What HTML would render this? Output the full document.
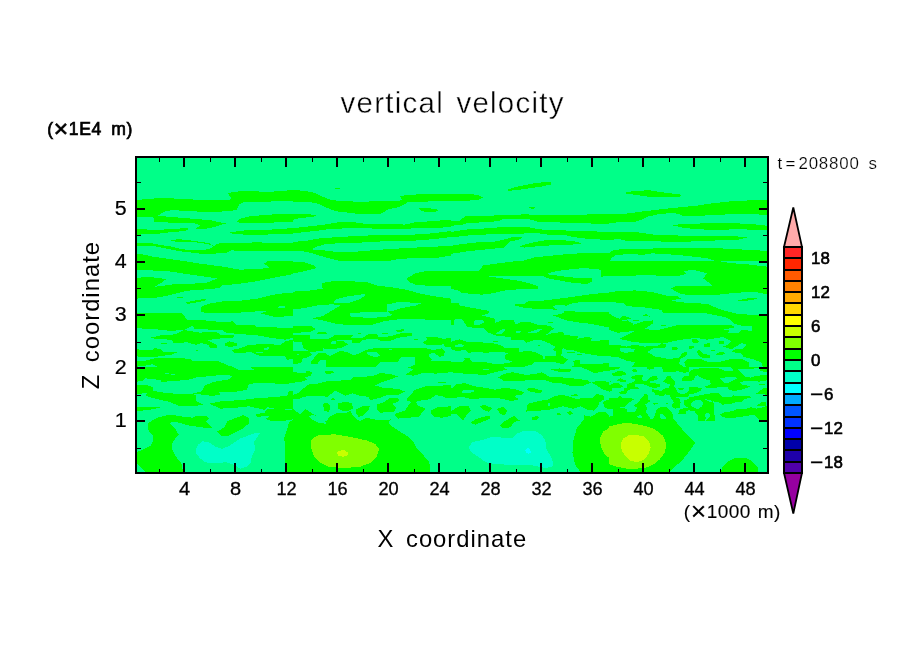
<!DOCTYPE html>
<html lang="en"><head><meta charset="utf-8"><title>vertical velocity</title>
<style>html,body{margin:0;padding:0;background:#fff}svg{display:block}text{font-family:"Liberation Sans",sans-serif;fill:#000}</style></head><body>
<svg width="904" height="654" viewBox="0 0 904 654">
<rect width="904" height="654" fill="#fff"/>
<defs><clipPath id="pc"><rect x="136" y="157" width="632" height="316"/></clipPath></defs>
<g clip-path="url(#pc)" shape-rendering="crispEdges">
<rect x="135" y="156" width="634" height="318" fill="#00ff88"/>
<g fill="#00ff00">
<polygon points="135.0,200.1 152.5,198.7 161.2,197.8 196.2,199.7 230.3,199.7 230.8,196.9 227.3,193.1 239.9,191.2 271.3,191.7 293.0,190.0 293.0,201.3 271.3,201.5 243.4,202.2 239.0,204.8 236.4,210.1 225.9,211.3 206.7,212.3 194.4,211.3 171.7,210.1 163.8,211.8 157.7,215.8 178.7,217.6 196.2,219.0 210.2,220.2 225.9,223.5 217.1,226.1 208.4,228.4 194.4,229.5 200.5,225.3 195.3,223.5 178.7,222.8 154.2,222.1 153.4,217.2 135.0,216.5"/>
<polygon points="135.0,229.1 156.0,229.8 170.0,229.3 185.7,228.1 189.2,228.8 185.7,230.9 170.0,232.3 156.0,234.0 135.0,234.7"/>
<polygon points="237.2,221.4 239.9,218.8 248.6,216.5 260.8,215.3 278.3,214.1 293.0,213.6 293.0,221.8 278.3,222.3 260.8,223.2 248.6,223.5 239.9,223.2"/>
<polygon points="225.9,233.1 236.4,231.4 246.9,230.2 260.8,230.5 274.8,229.3 293.0,228.1 293.0,233.7 274.8,234.0 260.8,235.0 248.6,235.4 239.9,234.0"/>
<polygon points="170.8,240.6 176.9,239.2 187.4,239.9 197.9,241.5 208.4,242.9 214.0,245.9 217.1,243.6 231.1,242.9 257.3,242.4 293.0,243.3 293.0,250.8 257.3,251.1 243.4,250.8 231.1,250.4 225.9,252.9 210.2,253.9 196.2,253.4 187.4,252.0 178.7,251.1 187.4,250.3 208.4,249.4 213.7,246.2 208.4,244.1 196.2,242.4 187.4,241.9 176.9,241.9"/>
<polygon points="135.0,242.9 152.5,243.4 161.2,245.2 170.0,246.2 178.7,248.5 187.4,249.9 187.4,252.2 178.7,251.1 170.0,249.4 161.2,247.6 152.5,245.9 135.0,245.9"/>
<polygon points="135.0,253.8 143.7,254.6 152.5,256.7 170.0,259.0 182.2,260.9 135.0,260.9"/>
<polygon points="293.0,190.0 303.5,190.8 314.0,192.6 321.0,196.1 331.5,200.1 345.4,201.3 362.9,201.8 383.9,200.8 397.9,200.8 402.2,200.1 400.0,196.6 404.9,195.2 418.8,194.3 451.0,193.8 451.0,200.8 418.8,201.8 408.4,201.8 404.0,204.8 397.9,207.4 389.1,209.2 380.4,213.6 362.9,214.4 350.7,213.0 336.7,211.3 328.0,208.3 319.2,203.9 310.5,202.2 293.0,201.8"/>
<polygon points="334.9,187.7 339.8,187.7 339.8,188.7 334.9,188.7"/>
<polygon points="418.8,208.3 425.8,208.0 437.2,209.2 438.1,211.3 429.3,212.0 421.5,211.3"/>
<polygon points="293.0,214.4 310.5,214.4 317.5,215.8 310.5,217.2 300.0,217.9 293.0,219.7"/>
<polygon points="293.0,228.1 303.5,227.0 314.0,225.8 324.5,224.6 338.4,222.3 350.7,221.8 362.9,223.5 376.9,224.0 390.9,224.0 404.9,224.6 415.3,222.3 432.8,221.1 451.0,219.7 451.0,227.0 432.8,228.1 415.3,228.4 397.9,228.8 362.9,228.4 345.4,228.4 331.5,228.8 319.2,230.5 307.0,231.9 293.0,233.3"/>
<polygon points="293.0,242.0 307.0,240.6 319.2,238.5 336.7,237.1 362.9,235.7 380.4,235.0 415.3,234.5 432.8,233.3 451.0,231.0 451.0,237.1 432.8,239.2 415.3,240.6 397.9,241.0 380.4,241.5 362.9,242.4 354.2,243.3 336.7,243.3 324.5,244.5 315.7,246.8 312.2,249.4 328.0,250.8 340.2,252.5 350.7,252.2 362.9,251.1 383.9,249.4 415.3,247.6 451.0,245.9 451.0,255.5 441.6,257.2 432.8,258.1 415.3,258.1 397.9,259.0 389.1,260.9 340.2,260.9 328.0,258.1 310.5,252.9 301.7,251.1 293.0,250.8"/>
<polygon points="506.9,190.0 512.2,187.9 524.4,185.1 538.4,182.6 550.6,182.1 551.5,184.4 541.9,186.5 529.7,188.2 517.4,190.0 508.7,190.8"/>
<polygon points="451.0,193.8 472.0,194.2 479.0,195.5 482.8,197.6 477.2,200.1 465.0,200.8 451.0,200.8"/>
<polygon points="528.8,207.1 533.1,206.9 536.6,208.3 531.4,208.8"/>
<polygon points="451.0,221.1 459.7,220.5 465.0,216.5 486.0,216.2 501.7,214.8 527.9,214.4 538.4,215.3 555.9,215.3 590.8,214.4 609.0,214.1 609.0,223.5 590.8,223.5 573.3,223.2 555.9,222.3 538.4,221.8 529.7,219.3 520.9,218.8 503.4,218.8 498.2,221.1 486.0,222.3 468.5,222.8 461.5,224.9 451.0,225.8"/>
<polygon points="451.0,231.9 468.5,229.3 486.0,228.4 503.4,227.0 527.9,227.0 538.4,229.3 555.9,230.2 582.1,231.0 609.0,231.9 609.0,239.8 590.8,239.2 573.3,237.1 564.6,235.0 547.1,234.5 534.9,232.8 520.9,233.7 503.4,234.0 486.0,234.5 468.5,235.4 456.2,236.8 451.0,237.1"/>
<polygon points="451.0,245.9 461.5,244.1 477.2,242.4 494.7,241.5 503.4,239.8 512.2,237.1 521.8,237.1 520.9,239.2 510.4,241.5 506.9,245.0 503.4,247.6 486.0,249.4 468.5,251.1 459.7,252.5 451.0,253.8"/>
<polygon points="519.2,246.2 529.7,243.3 541.9,240.6 555.9,239.8 573.3,241.0 582.1,243.3 573.3,244.5 555.9,245.0 538.4,246.2 524.4,247.6"/>
<polygon points="522.7,260.9 534.9,257.2 548.9,256.0 564.6,254.3 582.1,253.2 609.0,252.9 609.0,260.9"/>
<polygon points="623.0,193.1 635.2,190.8 649.2,190.3 664.9,192.6 682.4,194.8 678.9,196.9 661.4,197.5 647.5,196.6 635.2,194.8"/>
<polygon points="609.0,214.4 626.5,213.6 644.0,211.3 661.4,209.2 678.9,207.4 696.4,205.7 713.9,203.1 731.3,201.3 748.8,200.4 767.0,200.1 767.0,215.3 757.6,214.4 745.3,213.6 731.3,213.6 722.6,214.8 706.9,215.3 692.9,216.5 684.2,216.2 677.2,213.6 670.2,213.0 657.9,214.4 649.2,216.2 640.5,220.0 635.2,221.8 617.7,222.3 609.0,223.5"/>
<polygon points="671.9,225.3 682.4,224.0 699.9,223.5 722.6,222.8 740.1,223.5 757.6,224.6 767.0,225.8 767.0,230.5 757.6,229.8 740.1,229.3 713.9,229.8 696.4,229.3 682.4,227.5"/>
<polygon points="609.0,231.9 635.2,231.9 652.7,234.5 675.4,235.4 696.4,236.3 722.6,235.7 748.8,237.1 738.3,239.8 722.6,240.3 696.4,241.0 682.4,242.4 661.4,241.5 644.0,241.0 630.0,241.5 619.5,239.2 609.0,239.8"/>
<polygon points="609.0,252.9 614.2,249.7 630.0,249.0 652.7,248.5 661.4,248.0 696.4,248.5 713.9,248.0 740.1,249.4 757.6,250.3 767.0,251.1 767.0,260.9 715.6,260.9 706.9,258.1 687.7,256.0 675.4,254.6 661.4,254.3 652.7,253.2 644.0,254.6 626.5,254.3 616.0,255.0 611.6,258.1 609.9,260.9 609.0,260.9"/>
<polygon points="135.0,261.0 183.9,261.0 196.2,263.1 213.7,265.4 225.9,267.1 239.9,269.7 257.3,268.9 269.6,268.0 264.3,263.6 267.8,261.0 293.0,261.0 293.0,274.1 274.8,277.6 257.3,281.1 239.9,283.7 222.4,285.5 218.9,288.1 201.4,289.8 187.4,290.7 178.7,292.8 170.0,295.1 154.2,298.1 135.0,298.6 135.0,277.6 152.5,277.3 166.5,279.0 161.2,282.8 154.2,286.9 178.7,283.7 204.9,283.4 217.1,278.5 208.4,277.1 187.4,274.1 170.0,271.5 135.0,269.4"/>
<polygon points="176.9,296.8 183.1,296.8 183.1,297.9 176.9,297.9"/>
<polygon points="184.8,302.9 190.9,301.2 201.4,299.5 206.7,299.1 204.9,300.8 194.4,302.9 187.4,303.8"/>
<polygon points="200.5,311.7 201.4,306.8 208.4,303.8 222.4,301.5 239.9,300.8 257.3,298.6 271.3,295.1 283.6,293.3 293.0,292.5 293.0,315.5 283.6,316.6 274.8,316.9 267.8,315.2 260.8,313.4 267.8,310.8 257.3,311.3 239.9,312.6 222.4,313.1 208.4,313.4"/>
<polygon points="135.0,313.4 152.5,313.4 166.5,312.6 182.2,313.4 184.8,316.9 187.4,320.4 204.9,320.4 213.7,321.3 225.9,322.2 232.9,321.3 236.4,324.8 253.8,324.8 257.3,327.4 274.8,327.4 293.0,328.3 293.0,337.9 285.3,339.7 271.3,337.9 257.3,335.3 239.9,334.1 225.9,332.7 222.4,330.0 208.4,329.5 194.4,328.8 192.7,325.7 183.9,330.0 170.0,330.9 152.5,328.8 135.0,328.3"/>
<polygon points="149.0,337.9 161.2,335.3 175.2,334.4 183.9,330.0 199.7,332.7 208.4,331.8 218.9,332.7 220.6,335.3 234.6,335.3 232.9,337.9 213.7,338.8 208.4,340.5 217.1,344.9 217.1,347.5 210.2,348.4 208.4,344.9 201.4,343.1 196.2,344.9 187.4,342.3 173.5,343.1 171.7,339.7 161.2,339.3"/>
<polygon points="161.2,342.8 167.3,342.8 167.3,343.8 161.2,343.8"/>
<polygon points="225.0,343.1 229.4,341.4 236.4,343.1 237.2,345.8 229.4,347.0 225.0,345.8"/>
<polygon points="231.1,350.1 239.9,348.4 248.6,344.9 266.1,344.0 280.1,344.9 285.3,341.4 293.0,339.7 293.0,358.9 287.1,359.8 285.3,356.3 271.3,356.3 257.3,355.4 250.4,351.9 243.4,352.8 234.6,352.8"/>
<polygon points="135.0,349.3 152.5,350.1 154.2,348.0 161.2,349.3 163.0,351.9 178.7,351.9 171.7,354.5 156.0,356.8 145.5,357.1 135.0,356.3"/>
<polygon points="195.3,350.1 197.0,349.3 198.8,351.0 196.2,351.5"/>
<polygon points="135.0,361.0 145.5,360.6 156.0,358.0 176.9,358.0 190.9,358.9 192.7,361.5 204.9,360.6 218.9,361.5 229.4,365.9 232.9,366.9 157.7,366.9 152.5,364.1 143.7,365.9 135.0,366.9"/>
<polygon points="293.0,262.4 303.5,261.9 314.0,265.4 316.6,268.0 307.0,270.6 298.2,272.4 293.0,273.6"/>
<polygon points="406.6,278.5 415.3,273.2 425.8,271.1 451.0,270.6 451.0,285.5 432.8,286.3 415.3,284.6 409.2,282.0"/>
<polygon points="293.0,291.6 308.7,290.7 322.7,288.6 321.8,283.7 328.0,281.6 345.4,281.1 366.4,282.0 376.9,285.5 390.9,287.2 406.6,289.8 418.8,293.3 432.8,296.0 451.0,298.6 451.0,320.4 432.8,320.1 415.3,318.7 394.4,319.6 383.9,321.3 369.9,325.3 350.7,325.3 336.7,323.9 322.7,320.4 312.2,318.3 322.7,316.1 331.5,310.8 340.2,305.6 333.2,304.3 319.2,305.0 303.5,308.2 293.0,309.4"/>
<polygon points="293.0,326.0 303.5,326.0 312.2,326.5 315.7,329.2 310.5,331.8 298.2,332.7 293.0,332.7"/>
<polygon points="316.6,332.7 322.7,331.8 328.8,333.0 322.7,334.4 317.5,334.1"/>
<polygon points="357.7,332.7 361.2,332.7 361.2,333.7 357.7,333.7"/>
<polygon points="382.1,332.7 388.3,332.7 388.3,333.7 382.1,333.7"/>
<polygon points="396.1,330.0 404.0,329.2 403.5,331.3 397.0,332.0"/>
<polygon points="298.2,335.3 309.6,335.3 309.6,338.8 328.0,338.8 334.9,335.3 354.2,334.8 350.7,337.9 362.9,337.6 368.2,334.4 376.9,334.1 378.6,337.6 390.9,336.2 401.4,333.0 411.8,333.0 411.8,335.8 397.9,337.9 390.9,340.5 380.4,340.5 376.9,338.8 362.9,339.7 359.4,342.8 352.4,342.8 352.4,339.7 336.7,340.5 343.7,341.4 348.1,344.5 341.9,347.5 333.2,349.3 322.7,348.4 323.6,351.0 310.5,351.9 303.5,348.4 301.7,342.3 293.0,341.4 293.0,335.3"/>
<polygon points="413.6,338.8 418.0,338.8 418.0,340.0 413.6,340.0"/>
<polygon points="422.3,342.3 427.6,339.7 425.8,337.4 436.3,337.0 443.3,338.8 451.0,337.9 451.0,343.1 441.6,344.5 432.8,345.2 425.8,344.5"/>
<polygon points="293.0,351.0 308.7,350.5 312.2,354.5 308.7,357.1 301.7,358.9 301.7,362.4 295.6,364.1 293.0,364.1"/>
<polygon points="311.4,361.5 317.5,353.6 325.3,352.8 329.7,356.3 340.2,351.0 347.2,351.9 354.2,355.4 362.9,351.9 365.5,350.1 375.1,348.0 390.9,347.5 404.9,348.0 425.8,348.0 432.8,350.1 441.6,348.4 445.1,351.9 443.3,356.3 432.8,357.1 431.1,361.5 451.0,361.0 451.0,366.9 410.1,366.9 415.3,364.1 415.3,356.8 401.4,357.1 397.9,361.5 380.4,362.4 375.1,366.9 326.2,366.9 326.2,359.8 319.2,360.6 317.5,364.1 311.4,364.1"/>
<polygon points="443.3,344.9 451.0,342.3 451.0,347.5 445.1,347.0"/>
<polygon points="451.0,270.6 479.0,270.6 483.3,265.4 503.4,262.7 517.4,261.0 609.0,261.0 609.0,275.9 601.0,276.7 601.0,269.7 583.8,268.0 569.8,269.4 555.9,271.1 546.3,274.1 559.4,275.9 573.3,277.6 592.2,278.1 592.2,281.6 587.3,283.7 576.8,283.4 562.9,281.1 548.9,278.5 543.6,276.4 534.9,275.9 520.9,276.4 503.4,275.9 488.6,276.4 503.4,278.5 520.9,281.1 529.7,283.4 538.4,286.3 538.4,288.6 520.9,289.0 503.4,290.7 492.9,293.3 482.5,294.6 472.0,294.2 461.5,292.5 456.2,289.8 451.0,289.0"/>
<polygon points="512.2,304.7 524.4,303.8 527.9,301.5 541.9,300.8 559.4,298.6 573.3,296.8 590.8,294.2 609.0,292.5 609.0,301.5 590.8,301.5 573.3,302.9 566.4,305.6 555.9,304.7 553.2,306.4 556.7,309.6 538.4,309.1 524.4,307.8"/>
<polygon points="553.2,315.5 562.9,313.4 564.6,311.3 583.8,311.7 609.0,312.0 609.0,327.4 601.3,326.0 590.8,323.9 576.8,322.2 566.4,320.4 559.4,317.8"/>
<polygon points="451.0,302.9 458.9,302.9 459.7,305.6 472.0,307.8 488.6,310.8 488.6,313.4 482.5,315.5 494.7,318.7 494.7,327.1 483.3,327.8 467.6,327.4 464.1,322.2 461.5,318.7 454.5,319.6 453.6,324.8 451.0,325.3"/>
<polygon points="483.3,327.8 494.7,327.1 494.7,323.0 501.7,320.4 513.9,320.4 515.7,324.3 520.9,322.2 529.7,322.2 538.4,324.8 548.9,325.7 554.1,328.3 548.9,332.7 545.4,335.3 554.1,332.7 562.9,332.3 564.6,335.3 555.9,337.9 545.4,339.7 534.9,340.0 526.2,342.8 524.4,340.5 511.3,339.7 511.3,337.0 496.4,335.8 488.6,332.7"/>
<polygon points="555.9,337.9 564.6,335.3 578.6,335.8 576.8,338.8 587.3,337.0 592.6,337.9 590.8,340.5 599.6,340.5 609.0,340.0 609.0,356.3 601.3,356.3 590.8,354.5 580.3,352.8 573.3,350.1 566.4,350.1 562.9,347.5 555.9,347.0 548.9,343.1 541.9,340.5 545.4,339.7"/>
<polygon points="451.0,341.7 459.7,339.3 465.0,341.4 477.2,342.3 491.2,342.8 499.9,344.9 505.2,348.0 519.2,348.4 519.2,351.9 508.7,352.8 496.4,351.9 486.0,352.8 477.2,351.9 468.5,352.8 465.0,350.1 456.2,351.0 451.0,349.3"/>
<polygon points="505.2,355.4 508.7,352.8 519.2,351.9 527.9,351.0 534.9,351.9 541.9,355.4 545.4,356.3 555.9,356.3 555.9,351.0 552.4,350.1 555.9,347.0 562.9,347.5 561.1,355.4 568.1,359.8 562.9,364.1 554.1,362.0 545.4,361.5 534.9,361.5 533.1,364.1 526.2,365.9 524.4,366.9 494.7,366.9 494.7,364.1 508.7,363.2 512.2,361.5 505.2,359.2"/>
<polygon points="451.0,362.0 463.2,361.5 465.0,359.8 470.2,359.2 472.0,361.5 482.5,361.5 494.7,364.1 494.7,366.9 451.0,366.9"/>
<polygon points="464.1,358.0 468.5,357.5 470.2,359.2 465.0,359.8"/>
<polygon points="573.3,360.6 579.5,360.3 580.3,364.1 590.8,364.1 609.0,363.2 609.0,366.9 571.6,366.9 574.2,365.0"/>
<polygon points="548.0,321.8 553.2,321.8 553.2,322.9 548.0,322.9"/>
<polygon points="537.5,344.9 540.1,344.9 540.1,345.9 537.5,345.9"/>
<polygon points="566.4,351.9 573.3,351.5 575.1,352.8 568.1,353.1"/>
<polygon points="576.8,354.5 582.1,354.2 582.1,355.4 576.8,355.4"/>
<polygon points="492.9,340.9 497.8,340.9 497.8,341.9 492.9,341.9"/>
<polygon points="609.0,261.0 717.4,261.0 731.3,263.1 748.8,264.5 767.0,266.6 767.0,294.2 757.6,292.5 745.3,292.1 731.3,293.3 713.9,295.1 687.7,295.1 678.9,293.3 671.0,288.6 675.4,286.3 696.4,286.3 712.1,286.3 710.4,283.7 703.4,278.5 706.9,273.2 692.9,269.7 684.2,271.1 685.9,274.1 678.9,275.9 644.0,275.3 619.5,275.9 609.0,276.4"/>
<polygon points="609.0,292.1 619.5,291.1 635.2,290.4 652.7,292.1 666.7,295.6 677.2,296.0 680.7,298.6 670.2,300.8 687.7,302.9 706.9,303.8 714.7,307.1 723.3,310.3 737.8,314.0 759.7,315.2 767.0,314.0 767.0,366.9 762.8,366.9 761.1,362.4 752.3,358.9 743.6,357.1 741.8,353.6 731.3,351.9 734.8,349.3 743.6,348.4 747.1,344.9 741.8,343.1 731.3,349.3 722.6,346.6 727.8,344.9 731.3,341.4 722.6,337.0 719.1,334.4 720.9,330.0 729.6,330.0 727.8,333.5 738.3,332.7 741.8,330.0 752.3,330.9 752.3,326.0 741.8,325.7 734.8,323.9 731.3,320.4 724.4,316.9 706.9,313.4 685.9,313.4 663.2,313.1 661.4,309.9 644.0,307.3 626.5,306.1 623.0,302.9 609.0,302.1"/>
<polygon points="734.8,301.2 745.2,298.8 753.7,297.5 757.9,298.1 752.5,300.0 739.0,301.4"/>
<polygon points="612.5,330.9 619.5,328.3 630.0,327.4 635.2,323.9 644.0,321.3 652.7,320.4 653.6,323.0 644.0,329.2 657.9,330.0 664.9,328.3 678.9,324.8 696.4,325.3 713.9,324.8 731.3,324.8 734.8,327.4 720.9,330.0 719.1,334.4 722.6,337.0 706.9,339.7 696.4,337.9 687.7,338.8 677.2,340.5 664.9,343.1 644.0,343.1 631.7,341.7 619.5,338.8 626.5,335.3 635.2,330.9 617.7,332.7"/>
<polygon points="609.0,313.4 614.2,316.9 619.5,318.7 623.0,316.1 628.2,316.9 631.7,318.7 626.5,319.6 630.0,322.2 633.5,323.9 631.7,328.3 619.5,328.3 612.5,330.9 609.0,330.0"/>
<polygon points="642.2,316.1 645.7,313.8 650.1,316.6"/>
<polygon points="632.6,320.1 638.7,320.1 638.7,321.1 632.6,321.1"/>
<polygon points="661.4,325.0 665.8,325.0 665.8,326.0 661.4,326.0"/>
<polygon points="609.0,344.9 617.7,344.9 626.5,346.6 635.2,344.5 644.0,346.6 657.9,345.8 661.4,343.1 666.7,344.9 664.9,347.5 652.7,348.4 647.5,351.9 654.4,356.3 668.4,358.9 678.9,358.0 682.4,352.8 687.7,351.9 685.9,356.3 680.7,358.9 678.9,364.1 684.2,366.9 631.7,366.9 635.2,362.4 626.5,360.6 617.7,357.1 609.0,356.3"/>
<polygon points="671.9,347.5 677.2,346.6 678.0,349.3 672.8,350.5"/>
<polygon points="688.5,346.6 693.8,345.8 693.8,348.4 688.5,348.7"/>
<polygon points="691.1,339.7 696.4,338.8 699.9,342.3 692.9,343.1"/>
<polygon points="704.3,344.0 709.5,343.1 710.4,346.6 704.3,347.0"/>
<polygon points="719.1,341.4 724.4,341.0 724.4,343.5 719.1,343.5"/>
<polygon points="696.4,351.0 699.9,350.1 703.4,353.6 710.4,355.4 710.4,358.0 701.6,357.5 698.1,354.5"/>
<polygon points="711.2,349.8 714.7,349.8 714.7,350.8 711.2,350.8"/>
<polygon points="717.4,352.8 722.6,351.9 725.2,353.6 720.9,355.4 716.5,354.5"/>
<polygon points="687.7,358.9 699.9,358.9 706.9,361.5 720.9,361.5 731.3,358.9 741.8,358.9 748.8,362.4 748.8,366.9 685.9,366.9 684.2,362.4"/>
<polygon points="135.0,367.0 232.9,367.0 239.9,370.5 253.8,369.6 250.4,367.0 293.0,367.0 293.0,382.7 283.6,384.5 271.3,383.1 257.3,382.7 248.6,384.5 246.9,389.7 232.9,392.3 218.9,391.5 220.6,395.0 211.9,395.8 192.7,393.6 201.4,391.5 204.9,385.4 213.7,381.9 229.4,379.2 232.9,375.7 222.4,374.9 204.9,376.6 196.2,377.5 187.4,380.1 170.0,381.0 161.2,382.4 161.2,380.1 145.5,378.4 142.0,381.0 135.0,381.9"/>
<polygon points="135.0,385.4 145.5,384.5 152.5,387.1 152.5,390.6 161.2,392.3 178.7,394.1 192.7,393.6 196.2,395.8 196.2,401.1 203.2,404.6 192.7,406.3 178.7,405.8 170.0,402.0 157.7,399.3 145.5,395.8 147.2,392.9 138.5,394.1 135.0,395.0"/>
<polygon points="209.3,403.7 222.4,401.1 239.9,400.2 257.3,398.1 274.8,397.1 287.1,395.8 288.8,391.5 293.0,390.6 293.0,409.8 288.8,408.9 283.6,409.8 274.8,408.6 267.8,407.2 264.3,409.8 257.3,408.1 248.6,406.3 232.9,408.1 220.6,408.6"/>
<polygon points="135.0,407.5 145.5,406.8 161.2,407.2 152.5,409.3 142.0,410.7 135.0,410.7"/>
<polygon points="255.6,414.2 264.3,412.8 267.8,408.9 274.8,408.6 283.6,409.8 293.0,409.8 293.0,419.4 288.8,420.3 278.3,421.2 267.8,420.3 266.1,418.6 269.6,415.9 257.3,416.8"/>
<polygon points="217.1,431.7 224.1,427.3 227.6,421.2 236.4,417.7 243.4,415.1 248.6,417.7 249.5,422.9 243.4,428.2 234.6,432.5 227.6,436.0 220.6,435.5"/>
<polygon points="148.1,422.9 157.7,417.7 170.0,414.5 180.4,416.3 192.7,417.7 196.2,415.6 206.7,415.9 209.3,418.6 205.8,421.5 210.2,425.6 212.8,428.5 201.4,427.3 189.2,425.6 178.7,422.6 171.7,421.5 170.0,423.8 175.2,429.0 178.7,434.3 172.6,442.2 171.7,449.1 176.9,457.9 181.3,462.8 183.1,471.5 145.5,471.5 137.1,464.0 135.0,463.1 135.0,452.6 142.0,450.0 150.7,445.7 153.4,440.4 152.5,435.2 148.1,429.9"/>
<polygon points="293.0,419.4 288.8,422.9 287.1,429.9 284.4,436.9 285.3,471.5 293.0,471.5"/>
<polygon points="293.0,408.9 300.0,414.2 305.2,408.9 310.5,412.4 319.2,417.7 326.2,421.2 330.6,415.9 336.7,413.3 345.4,413.3 350.7,410.7 352.4,415.1 359.4,421.2 366.4,417.7 373.4,419.4 383.9,420.3 390.9,419.4 388.3,422.9 394.4,428.2 401.4,432.5 408.4,436.9 413.6,442.2 417.1,449.1 424.1,456.1 429.3,461.4 430.2,471.5 293.0,471.5"/>
<polygon points="293.0,372.2 305.2,373.1 307.0,370.5 312.2,372.2 310.5,375.7 305.2,377.5 307.0,380.1 300.0,381.9 293.0,382.7"/>
<polygon points="324.5,371.4 333.2,370.8 334.1,373.1 326.2,374.0"/>
<polygon points="301.7,389.7 308.7,384.5 317.5,383.6 328.0,381.0 350.7,380.1 354.2,376.6 366.4,376.6 373.4,375.7 380.4,373.1 390.9,374.0 397.9,376.6 390.9,379.2 380.4,382.7 375.1,385.4 383.9,388.0 397.9,388.8 404.9,391.5 397.9,395.0 387.4,395.0 380.4,397.6 369.9,400.2 368.2,396.7 359.4,395.8 352.4,393.2 345.4,395.8 334.9,390.6 328.0,396.7 314.0,395.8 303.5,396.7 298.2,399.3 293.0,398.5 293.0,395.0 298.2,393.2"/>
<polygon points="404.9,374.9 413.6,369.6 406.6,367.0 451.0,367.0 451.0,372.2 436.3,373.6 422.3,373.1 413.6,375.7"/>
<polygon points="408.4,396.7 415.3,389.7 425.8,386.2 438.1,386.2 451.0,384.5 451.0,397.6 446.8,398.5 443.3,396.7 436.3,395.0 429.3,399.3 422.3,400.2 415.3,402.0 418.8,406.3 425.8,408.1 422.3,412.4 418.8,416.8 408.4,417.7 397.9,418.6 394.4,414.2 404.9,410.7 408.4,405.5 411.8,402.0 406.6,400.2"/>
<polygon points="438.1,381.9 445.9,381.9 445.9,382.9 438.1,382.9"/>
<polygon points="322.7,403.7 328.0,402.8 330.6,407.2 328.8,412.4 324.5,410.7"/>
<polygon points="337.6,403.7 343.7,402.0 351.6,402.8 353.3,408.1 348.9,410.7 341.9,410.7 337.6,408.1"/>
<polygon points="355.9,409.8 362.9,406.3 369.9,405.5 368.2,410.7 362.9,415.9 358.5,416.8 355.9,413.3"/>
<polygon points="376.9,404.6 383.9,402.0 390.9,397.6 397.9,397.6 399.6,401.1 392.6,403.7 396.1,408.1 394.4,411.6 385.6,411.6 380.4,413.3 376.9,409.8"/>
<polygon points="431.1,410.7 438.1,407.2 451.0,406.3 451.0,415.9 441.6,417.7 434.6,416.8 431.1,414.2"/>
<polygon points="333.2,397.6 335.8,400.2 329.7,400.2"/>
<polygon points="451.0,367.0 503.4,367.0 506.9,369.6 494.7,372.2 486.0,374.9 468.5,374.0 458.0,373.1 451.0,372.2"/>
<polygon points="498.2,377.5 503.4,374.0 512.2,372.2 526.2,374.9 534.9,374.0 541.9,372.2 548.9,376.6 562.9,377.5 573.3,378.4 587.3,380.1 590.8,382.7 582.1,386.2 571.6,386.2 562.9,383.6 552.4,382.7 545.4,380.1 531.4,380.1 517.4,381.0 503.4,380.6"/>
<polygon points="550.6,369.6 559.4,368.4 571.6,369.6 569.8,372.2 559.4,371.9"/>
<polygon points="580.3,367.0 609.0,367.0 609.0,370.5 601.3,371.9 594.3,373.1 589.1,370.5"/>
<polygon points="590.8,381.9 601.3,381.0 609.0,381.9 609.0,391.5 603.1,389.7 597.8,386.2"/>
<polygon points="451.0,388.8 456.2,384.5 465.0,383.1 473.7,386.2 486.0,388.0 494.7,389.7 503.4,388.0 513.9,388.8 524.4,392.3 520.9,395.0 513.9,395.8 519.2,399.3 512.2,401.1 499.9,398.5 486.0,397.6 472.0,399.3 461.5,396.7 451.0,398.5"/>
<polygon points="525.3,388.8 533.1,388.0 541.9,390.6 541.0,392.9 531.4,392.3"/>
<polygon points="526.2,411.6 527.9,403.7 538.4,401.1 548.9,399.3 555.9,395.8 562.9,395.0 569.8,396.7 576.8,399.3 583.8,397.6 592.6,398.1 596.1,394.1 603.1,395.0 604.8,399.3 599.6,402.0 597.8,407.2 594.3,410.7 587.3,409.8 580.3,406.3 573.3,408.9 562.9,406.3 555.9,408.1 548.9,409.8 538.4,410.7"/>
<polygon points="570.7,395.0 576.8,394.1 577.7,395.8 571.6,396.4"/>
<polygon points="603.1,402.0 609.0,399.3 609.0,408.9 604.8,408.1"/>
<polygon points="454.5,408.9 461.5,405.5 468.5,406.3 471.1,410.7 466.7,415.1 463.2,420.3 459.7,417.7 456.2,414.2 451.0,414.2 451.0,411.6"/>
<polygon points="479.8,406.3 484.2,404.6 492.1,408.1 488.6,411.6 483.3,409.8"/>
<polygon points="496.4,408.9 503.4,406.8 506.9,410.7 505.2,415.1 500.8,414.2"/>
<polygon points="470.2,422.9 475.5,419.4 482.5,416.8 490.3,415.9 490.3,418.6 484.2,421.2 475.5,424.7"/>
<polygon points="499.9,425.6 503.4,422.1 510.4,417.7 513.9,415.9 517.4,419.4 520.9,420.3 513.9,422.1 510.4,427.3 503.4,428.5"/>
<polygon points="531.4,417.7 536.6,415.9 539.3,417.7 536.6,419.8 532.3,419.8"/>
<polygon points="556.7,413.8 559.4,412.8 561.1,414.5 557.6,415.1"/>
<polygon points="566.4,412.1 570.7,411.0 573.3,413.8 569.8,415.1"/>
<polygon points="572.5,452.6 573.3,440.4 576.8,428.2 583.8,419.4 583.8,415.1 590.8,416.8 599.6,411.6 604.8,411.6 609.0,415.1 609.0,471.5 580.3,471.5 575.1,464.9"/>
<polygon points="609.0,419.4 674.0,419.4 684.2,431.7 691.1,438.7 695.0,443.0 691.1,449.1 684.2,457.9 675.4,466.6 670.2,471.5 609.0,471.5"/>
<polygon points="720.9,471.5 722.6,466.6 727.8,461.4 734.8,458.2 745.3,457.9 752.3,461.4 757.6,467.5 757.9,471.5"/>
<polygon points="609.0,367.0 619.6,367.0 619.6,368.3 614.3,369.7 609.9,370.5 609.0,371.9"/>
<polygon points="612.1,373.6 615.2,372.3 617.8,371.0 622.3,371.0 625.8,373.2 625.8,375.0 620.5,375.8 614.3,375.8 612.1,375.4"/>
<polygon points="631.1,371.0 634.2,368.9 636.4,369.7 637.8,371.4 633.8,371.9"/>
<polygon points="647.1,367.0 654.1,367.0 653.7,368.8 648.8,369.7 647.1,368.3"/>
<polygon points="661.2,367.0 689.0,367.0 689.0,371.9 684.2,372.8 683.8,375.8 686.9,376.3 689.0,375.4 689.0,381.2 682.5,381.2 682.0,378.5 684.2,375.8 683.3,372.3 677.1,371.0 674.5,371.9 663.0,371.9 662.5,368.8"/>
<polygon points="631.1,376.7 636.4,375.0 643.1,375.0 643.5,376.7 641.7,378.1 642.6,380.7 646.2,381.2 649.7,377.6 652.4,376.3 656.8,376.3 658.1,378.9 655.0,380.3 650.6,381.2 649.3,382.9 655.0,383.4 659.9,384.3 659.9,386.5 655.9,387.8 650.6,387.4 647.1,385.6 643.5,384.3 638.2,383.8 634.7,384.7 635.5,386.9 640.9,388.2 635.5,389.1 628.5,389.6 628.0,390.9 625.8,393.5 619.6,393.5 619.2,392.2 624.0,390.5 623.6,388.2 626.7,387.8 627.1,384.3 631.1,382.9 634.7,381.2 635.5,378.9 631.6,378.5"/>
<polygon points="609.9,381.2 611.2,380.7 611.2,382.0 609.9,382.0"/>
<polygon points="617.0,380.3 620.5,378.1 622.3,379.4 626.3,380.7 626.7,382.5 622.3,382.0 617.8,381.2"/>
<polygon points="609.0,385.6 613.0,383.4 617.8,382.9 620.5,384.7 623.2,386.5 620.5,387.8 611.7,388.2 611.7,390.9 609.0,391.8"/>
<polygon points="663.0,381.6 665.6,378.5 667.4,375.8 670.9,375.8 671.8,378.5 674.5,381.2 675.8,382.9 674.5,384.7 674.0,386.9 676.3,389.1 678.0,392.7 681.6,394.4 685.1,393.5 689.0,390.9 689.0,396.2 685.1,397.1 679.8,397.5 677.1,397.1 674.5,398.4 670.9,398.0 670.1,395.3 665.6,394.4 663.9,395.8 655.0,395.3 655.0,393.5 651.5,390.9 651.5,389.1 656.8,390.0 661.2,390.9 664.8,388.7 669.2,387.4 670.1,384.3 666.5,383.4"/>
<polygon points="678.0,388.2 684.2,388.1 682.5,389.6 679.8,389.8"/>
<polygon points="609.0,398.0 617.8,398.0 619.6,395.8 622.3,397.5 630.2,398.0 633.8,399.3 630.2,402.0 626.7,404.2 625.8,406.4 619.6,407.3 619.6,408.2 626.7,408.6 627.1,411.7 634.7,411.7 637.3,408.2 634.2,405.5 638.2,402.4 641.7,398.0 644.4,394.4 647.1,394.0 647.9,396.2 647.9,399.3 651.0,401.1 647.9,402.4 645.3,404.6 647.1,408.6 645.3,412.1 647.9,414.8 650.6,419.2 652.4,419.2 655.0,415.7 655.9,410.4 658.6,407.7 665.6,406.8 669.2,409.5 672.7,413.9 673.6,421.2 609.0,421.2 609.0,416.6 612.5,416.1 613.0,409.0 609.0,409.0"/>
<polygon points="652.4,403.1 658.1,403.1 657.2,404.2 654.1,404.6"/>
<polygon points="666.1,403.1 667.8,403.1 667.8,403.8 666.1,403.8"/>
<polygon points="670.9,398.0 674.5,398.4 678.9,397.5 679.8,399.7 680.7,402.4 679.8,407.7 675.4,408.6 672.7,407.7 671.8,405.1 673.6,402.4 673.2,400.2"/>
<polygon points="684.2,400.6 689.0,398.9 689.0,406.8 686.0,406.8 684.2,404.2"/>
<polygon points="678.0,414.3 678.9,411.2 679.8,409.0 685.1,408.2 689.0,407.3 689.0,410.4 686.0,410.8 685.5,414.3"/>
<polygon points="689.0,371.9 694.3,368.9 704.9,368.1 718.2,368.1 724.4,370.7 732.4,371.2 733.2,369.5 731.0,367.0 766.9,367.0 766.9,380.3 759.8,381.6 750.9,381.2 743.9,381.2 740.3,382.5 742.1,384.7 750.1,386.0 749.2,386.9 742.1,389.6 735.0,390.9 728.8,390.2 727.9,387.2 705.8,387.8 704.9,386.5 710.7,384.3 710.2,380.3 708.9,380.3 701.4,378.1 697.8,375.1 695.2,376.7 693.4,380.3 689.0,381.2"/>
<polygon points="758.9,383.8 765.1,383.6 765.1,384.7 758.9,384.9"/>
<polygon points="689.0,387.4 697.8,387.4 702.3,388.2 700.5,390.9 694.3,393.5 689.0,394.0"/>
<polygon points="689.0,397.5 696.1,396.2 704.9,394.4 712.9,393.1 719.1,393.1 721.7,396.6 731.5,396.6 733.2,394.9 735.0,396.2 750.1,396.2 750.9,397.5 743.9,399.3 742.1,402.0 735.0,402.4 729.7,404.2 722.6,404.6 719.1,402.4 715.5,402.0 712.9,401.1 714.2,404.2 714.7,421.2 705.8,421.2 709.8,416.6 709.4,413.5 706.7,413.0 704.9,414.8 705.8,417.9 704.9,421.2 697.8,421.2 697.8,415.2 694.3,411.2 689.0,410.4"/>
<polygon points="720.0,414.8 724.4,412.1 733.2,411.2 736.8,409.0 743.9,409.5 750.9,407.3 756.3,408.6 759.8,408.2 766.9,405.9 766.9,421.2 759.8,421.2 756.3,416.6 754.5,414.8 750.9,414.8 746.5,416.1 733.2,417.9 726.2,417.9 722.6,416.6"/>
<polygon points="756.3,393.5 759.8,390.9 763.3,388.2 766.9,387.8 766.9,395.3 764.2,394.4 759.8,394.4"/>
<polygon points="757.1,405.5 759.8,403.3 762.5,402.0 765.5,402.4 765.5,405.9"/>
</g>
<g fill="#00ff88">
<polygon points="277.4,306.8 284.4,305.6 285.0,307.8 278.3,308.5"/>
<polygon points="263.5,348.0 269.6,347.0 268.7,349.3 264.3,350.1"/>
<polygon points="255.6,351.9 262.6,351.5 262.6,352.6 255.6,352.9"/>
<polygon points="334.1,302.9 334.9,299.8 345.4,296.8 364.7,293.9 365.0,295.6 358.5,299.8 349.8,302.6 341.9,303.3"/>
<polygon points="349.8,313.4 366.4,312.0 387.4,311.7 392.6,315.2 383.9,317.3 366.4,317.8 350.7,316.6"/>
<polygon points="387.4,311.7 386.5,304.7 397.9,302.1 422.3,302.9 415.3,305.6 401.4,308.2 392.6,310.8"/>
<polygon points="330.6,341.7 335.8,341.0 335.8,343.5 330.6,343.5"/>
<polygon points="296.5,353.6 299.1,353.6 299.1,355.4 296.5,355.4"/>
<polygon points="366.4,351.9 376.9,352.2 380.4,356.3 373.4,356.8 368.2,354.5"/>
<polygon points="388.3,350.1 390.9,348.7 393.0,350.5"/>
<polygon points="429.3,353.6 434.6,353.3 439.8,356.8 432.8,359.8 429.3,357.1"/>
<polygon points="474.6,320.4 482.5,319.6 484.2,322.2 479.8,324.8 473.7,324.8"/>
<polygon points="496.1,333.5 501.7,329.5 505.2,329.2 503.4,332.7 499.9,334.4"/>
<polygon points="516.0,331.3 520.9,330.9 520.0,333.0 516.5,333.0"/>
<polygon points="527.9,332.3 538.4,329.2 541.9,329.5 536.6,333.0 529.7,333.5"/>
<polygon points="455.4,344.9 461.5,344.0 464.1,345.8 460.6,347.5 455.4,347.2"/>
<polygon points="542.8,356.3 545.4,356.3 545.4,358.9 542.8,358.9"/>
<polygon points="622.1,319.6 626.5,319.6 626.5,321.3 622.1,321.3"/>
<polygon points="619.5,348.4 624.7,347.5 635.2,349.3 633.5,351.9 624.7,352.8 619.5,351.0"/>
<polygon points="164.7,373.1 169.1,373.1 169.1,374.2 164.7,374.2"/>
<polygon points="170.8,374.3 175.2,374.3 175.2,375.4 170.8,375.4"/>
<polygon points="142.0,393.2 147.2,392.9 145.5,394.6 142.0,394.6"/>
<polygon points="307.9,415.9 314.0,415.1 319.2,417.7 324.5,420.3 326.2,423.8 319.2,422.9 312.2,419.4"/>
<polygon points="482.5,368.7 488.6,368.7 488.6,369.8 482.5,369.8"/>
<polygon points="461.5,390.6 473.7,389.7 473.7,392.3 461.5,393.2"/>
<polygon points="548.0,402.8 550.3,402.8 550.3,405.5 548.0,405.5"/>
<polygon points="637.3,416.6 639.5,415.2 642.2,415.7 641.7,417.9 638.6,418.2"/>
<polygon points="659.4,414.8 662.1,413.9 665.6,416.6 666.5,419.2 662.1,419.2 659.9,417.4"/>
<polygon points="720.0,378.5 726.2,377.2 735.0,377.2 737.2,378.5 733.2,380.3 727.9,383.4 725.3,383.4"/>
<polygon points="738.1,369.2 750.9,368.6 759.4,368.3 759.8,371.2 766.9,371.9 766.9,375.0 756.3,375.8 750.9,377.6 745.6,376.9 742.1,374.1"/>
<polygon points="691.2,403.3 695.2,400.2 700.5,400.2 703.6,403.3 701.4,406.8 697.8,409.5 694.3,407.7 691.2,405.9"/>
<polygon points="704.9,399.3 706.7,399.3 712.9,401.1 711.1,402.4"/>
</g>
<polygon fill="#00ffc8" points="196.2,449.1 197.9,444.8 202.3,441.3 208.4,442.2 215.4,446.5 222.4,448.8 229.4,445.7 239.9,438.7 253.8,433.4 260.0,433.1 257.3,436.9 253.8,442.2 255.6,449.1 252.1,456.1 250.4,463.1 246.9,466.6 239.9,468.7 234.6,464.9 225.9,462.3 213.7,463.1 204.9,462.3 199.7,457.9 196.2,453.5"/>
<polygon fill="#80ff00" points="310.5,442.2 313.1,437.8 319.2,435.2 334.9,434.3 350.7,436.9 366.4,440.4 375.1,443.9 379.0,449.1 376.9,456.1 371.7,462.3 359.4,467.0 341.9,468.0 328.0,466.6 319.2,462.3 314.0,456.1 311.4,449.1"/>
<polygon fill="#c8ff00" points="336.7,453.5 338.8,450.9 343.7,450.0 347.5,452.3 347.5,455.3 343.7,456.7 338.8,456.1"/>
<polygon fill="#80ff00" points="609.0,428.2 603.1,431.7 599.9,438.7 601.0,447.4 604.8,454.4 609.0,457.9"/>
<polygon fill="#00ffc8" points="468.8,447.4 472.0,442.2 480.7,440.4 492.9,436.6 503.4,437.8 512.2,437.8 517.4,433.4 524.4,430.8 534.9,430.8 541.9,435.2 545.4,440.4 546.3,449.1 550.6,456.1 553.2,462.3 552.4,466.6 545.4,468.0 529.7,464.9 512.2,464.9 494.7,464.0 486.0,462.3 477.2,456.1 471.1,451.8"/>
<polygon fill="#00ffff" points="525.3,450.0 527.0,447.9 530.0,449.1 531.0,452.3 528.8,453.9 526.2,452.6"/>
<polygon fill="#80ff00" points="609.0,426.4 619.5,423.8 628.2,422.9 644.0,425.6 654.4,429.0 663.2,436.0 666.3,443.9 664.9,452.6 659.7,459.6 652.7,464.9 644.0,468.4 626.5,468.7 616.0,466.6 609.0,464.0"/>
<polygon fill="#c8ff00" points="620.9,443.9 623.0,438.7 628.2,435.5 635.2,434.8 644.0,436.6 649.2,441.3 650.6,447.4 648.3,454.4 644.0,459.6 637.0,462.3 630.0,460.5 624.7,455.3 621.6,450.0"/>
</g>
<g shape-rendering="crispEdges" fill="#000">
<rect x="135" y="156" width="634" height="2"/>
<rect x="135" y="472" width="634" height="2"/>
<rect x="135" y="156" width="2" height="318"/>
<rect x="767" y="156" width="2" height="318"/>
<rect x="183" y="158" width="2" height="9"/>
<rect x="183" y="463" width="2" height="9"/>
<rect x="234" y="158" width="2" height="9"/>
<rect x="234" y="463" width="2" height="9"/>
<rect x="285" y="158" width="2" height="9"/>
<rect x="285" y="463" width="2" height="9"/>
<rect x="336" y="158" width="2" height="9"/>
<rect x="336" y="463" width="2" height="9"/>
<rect x="387" y="158" width="2" height="9"/>
<rect x="387" y="463" width="2" height="9"/>
<rect x="438" y="158" width="2" height="9"/>
<rect x="438" y="463" width="2" height="9"/>
<rect x="489" y="158" width="2" height="9"/>
<rect x="489" y="463" width="2" height="9"/>
<rect x="540" y="158" width="2" height="9"/>
<rect x="540" y="463" width="2" height="9"/>
<rect x="591" y="158" width="2" height="9"/>
<rect x="591" y="463" width="2" height="9"/>
<rect x="642" y="158" width="2" height="9"/>
<rect x="642" y="463" width="2" height="9"/>
<rect x="693" y="158" width="2" height="9"/>
<rect x="693" y="463" width="2" height="9"/>
<rect x="744" y="158" width="2" height="9"/>
<rect x="744" y="463" width="2" height="9"/>
<rect x="159" y="158" width="1" height="4"/>
<rect x="159" y="469" width="1" height="3"/>
<rect x="210" y="158" width="1" height="4"/>
<rect x="210" y="469" width="1" height="3"/>
<rect x="261" y="158" width="1" height="4"/>
<rect x="261" y="469" width="1" height="3"/>
<rect x="312" y="158" width="1" height="4"/>
<rect x="312" y="469" width="1" height="3"/>
<rect x="363" y="158" width="1" height="4"/>
<rect x="363" y="469" width="1" height="3"/>
<rect x="414" y="158" width="1" height="4"/>
<rect x="414" y="469" width="1" height="3"/>
<rect x="465" y="158" width="1" height="4"/>
<rect x="465" y="469" width="1" height="3"/>
<rect x="516" y="158" width="1" height="4"/>
<rect x="516" y="469" width="1" height="3"/>
<rect x="567" y="158" width="1" height="4"/>
<rect x="567" y="469" width="1" height="3"/>
<rect x="618" y="158" width="1" height="4"/>
<rect x="618" y="469" width="1" height="3"/>
<rect x="669" y="158" width="1" height="4"/>
<rect x="669" y="469" width="1" height="3"/>
<rect x="720" y="158" width="1" height="4"/>
<rect x="720" y="469" width="1" height="3"/>
<rect x="137" y="420" width="8" height="2"/>
<rect x="759" y="420" width="8" height="2"/>
<rect x="137" y="367" width="8" height="2"/>
<rect x="759" y="367" width="8" height="2"/>
<rect x="137" y="314" width="8" height="2"/>
<rect x="759" y="314" width="8" height="2"/>
<rect x="137" y="261" width="8" height="2"/>
<rect x="759" y="261" width="8" height="2"/>
<rect x="137" y="208" width="8" height="2"/>
<rect x="759" y="208" width="8" height="2"/>
<rect x="137" y="448" width="4" height="1"/>
<rect x="763" y="448" width="4" height="1"/>
<rect x="137" y="395" width="4" height="1"/>
<rect x="763" y="395" width="4" height="1"/>
<rect x="137" y="342" width="4" height="1"/>
<rect x="763" y="342" width="4" height="1"/>
<rect x="137" y="288" width="4" height="1"/>
<rect x="763" y="288" width="4" height="1"/>
<rect x="137" y="235" width="4" height="1"/>
<rect x="763" y="235" width="4" height="1"/>
<rect x="137" y="182" width="4" height="1"/>
<rect x="763" y="182" width="4" height="1"/>
</g>
<g shape-rendering="crispEdges">
<rect x="784" y="461.7" width="18" height="11.8" fill="#5000aa"/>
<rect x="784" y="450.4" width="18" height="11.8" fill="#1e00aa"/>
<rect x="784" y="439.1" width="18" height="11.8" fill="#0000aa"/>
<rect x="784" y="427.8" width="18" height="11.8" fill="#0000ff"/>
<rect x="784" y="416.5" width="18" height="11.8" fill="#0032ff"/>
<rect x="784" y="405.2" width="18" height="11.8" fill="#0055ff"/>
<rect x="784" y="393.9" width="18" height="11.8" fill="#00aaff"/>
<rect x="784" y="382.6" width="18" height="11.8" fill="#00ffff"/>
<rect x="784" y="371.3" width="18" height="11.8" fill="#00ffc8"/>
<rect x="784" y="360.0" width="18" height="11.8" fill="#00ff88"/>
<rect x="784" y="348.7" width="18" height="11.8" fill="#00ff00"/>
<rect x="784" y="337.4" width="18" height="11.8" fill="#80ff00"/>
<rect x="784" y="326.1" width="18" height="11.8" fill="#c8ff00"/>
<rect x="784" y="314.8" width="18" height="11.8" fill="#ffff00"/>
<rect x="784" y="303.5" width="18" height="11.8" fill="#ffd700"/>
<rect x="784" y="292.2" width="18" height="11.8" fill="#ffaa00"/>
<rect x="784" y="280.9" width="18" height="11.8" fill="#ff8200"/>
<rect x="784" y="269.6" width="18" height="11.8" fill="#ff5a00"/>
<rect x="784" y="258.3" width="18" height="11.8" fill="#ff2600"/>
<rect x="784" y="247.0" width="18" height="11.8" fill="#ff2626"/>
</g>
<polygon points="784,247 793.3,207.5 802,247" fill="#ffaaaa" stroke="#000" stroke-width="1.8" stroke-linejoin="miter"/>
<polygon points="784,473 793.3,513.5 802,473" fill="#9600a0" stroke="#000" stroke-width="1.8" stroke-linejoin="miter"/>
<g shape-rendering="crispEdges" fill="#000">
<rect x="783" y="246" width="2" height="228"/>
<rect x="801" y="246" width="2" height="228"/>
<rect x="783" y="472" width="20" height="2"/>
<rect x="783" y="461" width="20" height="2"/>
<rect x="783" y="449" width="20" height="2"/>
<rect x="783" y="438" width="20" height="2"/>
<rect x="783" y="427" width="20" height="2"/>
<rect x="783" y="416" width="20" height="2"/>
<rect x="783" y="404" width="20" height="2"/>
<rect x="783" y="393" width="20" height="2"/>
<rect x="783" y="382" width="20" height="2"/>
<rect x="783" y="370" width="20" height="2"/>
<rect x="783" y="359" width="20" height="2"/>
<rect x="783" y="348" width="20" height="2"/>
<rect x="783" y="336" width="20" height="2"/>
<rect x="783" y="325" width="20" height="2"/>
<rect x="783" y="314" width="20" height="2"/>
<rect x="783" y="302" width="20" height="2"/>
<rect x="783" y="291" width="20" height="2"/>
<rect x="783" y="280" width="20" height="2"/>
<rect x="783" y="269" width="20" height="2"/>
<rect x="783" y="257" width="20" height="2"/>
<rect x="783" y="246" width="20" height="2"/>
</g>
<text transform="translate(340.5,112.6)" font-size="29.5" letter-spacing="1.25" word-spacing="3" stroke="#fff" stroke-width="0.4">vertical velocity</text>
<text transform="translate(47.3,134.9)" font-size="17.6" letter-spacing="0.6" word-spacing="4" stroke="#000" stroke-width="0.7">(<tspan font-size="1.4em" dy="2.2">×</tspan><tspan dy="-2.2">1E4 m)</tspan></text>
<text transform="translate(777.5,168.9)" font-size="16.9" letter-spacing="0.8" word-spacing="3.3" stroke="#fff" stroke-width="0.2"><tspan letter-spacing="3.2">t=</tspan>208800 s</text>
<text transform="translate(683.8,517.8)" font-size="19.0" letter-spacing="0.5" word-spacing="1" stroke="#000" stroke-width="0.1">(<tspan font-size="1.4em" dy="2.4">×</tspan><tspan dy="-2.4">1000 m)</tspan></text>
<text transform="translate(377.5,547)" font-size="23.8" letter-spacing="1.0" word-spacing="4">X coordinate</text>
<text transform="translate(99.2,389.3) rotate(-90)" font-size="23.8" letter-spacing="1.0" word-spacing="4">Z coordinate</text>
<text transform="translate(179.0,494.9) scale(1.1,1)" font-size="18.2" letter-spacing="0" stroke="#000" stroke-width="0.3">4</text>
<text transform="translate(230.0,494.9) scale(1.1,1)" font-size="18.2" letter-spacing="0" stroke="#000" stroke-width="0.3">8</text>
<text transform="translate(276.5,494.9)" font-size="18.2" letter-spacing="0" stroke="#000" stroke-width="0.3">12</text>
<text transform="translate(327.5,494.9)" font-size="18.2" letter-spacing="0" stroke="#000" stroke-width="0.3">16</text>
<text transform="translate(378.5,494.9)" font-size="18.2" letter-spacing="0" stroke="#000" stroke-width="0.3">20</text>
<text transform="translate(429.5,494.9)" font-size="18.2" letter-spacing="0" stroke="#000" stroke-width="0.3">24</text>
<text transform="translate(480.5,494.9)" font-size="18.2" letter-spacing="0" stroke="#000" stroke-width="0.3">28</text>
<text transform="translate(531.5,494.9)" font-size="18.2" letter-spacing="0" stroke="#000" stroke-width="0.3">32</text>
<text transform="translate(582.5,494.9)" font-size="18.2" letter-spacing="0" stroke="#000" stroke-width="0.3">36</text>
<text transform="translate(633.5,494.9)" font-size="18.2" letter-spacing="0" stroke="#000" stroke-width="0.3">40</text>
<text transform="translate(684.5,494.9)" font-size="18.2" letter-spacing="0" stroke="#000" stroke-width="0.3">44</text>
<text transform="translate(735.5,494.9)" font-size="18.2" letter-spacing="0" stroke="#000" stroke-width="0.3">48</text>
<text transform="translate(114.8,427.0) scale(1.1,1)" font-size="19.5" letter-spacing="0" stroke="#000" stroke-width="0.2">1</text>
<text transform="translate(114.8,374.0) scale(1.1,1)" font-size="19.5" letter-spacing="0" stroke="#000" stroke-width="0.2">2</text>
<text transform="translate(114.8,321.0) scale(1.1,1)" font-size="19.5" letter-spacing="0" stroke="#000" stroke-width="0.2">3</text>
<text transform="translate(114.8,268.0) scale(1.1,1)" font-size="19.5" letter-spacing="0" stroke="#000" stroke-width="0.2">4</text>
<text transform="translate(114.8,215.0) scale(1.1,1)" font-size="19.5" letter-spacing="0" stroke="#000" stroke-width="0.2">5</text>
<text transform="translate(810.3,467.5) scale(1.3,1)" font-size="16.9" letter-spacing="0" stroke="#000" stroke-width="0.6">−</text>
<text transform="translate(824,467.5)" font-size="16.9" letter-spacing="0" stroke="#000" stroke-width="0.6">18</text>
<text transform="translate(810.3,433.6) scale(1.3,1)" font-size="16.9" letter-spacing="0" stroke="#000" stroke-width="0.6">−</text>
<text transform="translate(824,433.6)" font-size="16.9" letter-spacing="0" stroke="#000" stroke-width="0.6">12</text>
<text transform="translate(810.3,399.7) scale(1.3,1)" font-size="16.9" letter-spacing="0" stroke="#000" stroke-width="0.6">−</text>
<text transform="translate(824,399.7)" font-size="16.9" letter-spacing="0" stroke="#000" stroke-width="0.6">6</text>
<text transform="translate(811,365.8)" font-size="16.9" letter-spacing="0" stroke="#000" stroke-width="0.6">0</text>
<text transform="translate(811,331.9)" font-size="16.9" letter-spacing="0" stroke="#000" stroke-width="0.6">6</text>
<text transform="translate(811,298.0)" font-size="16.9" letter-spacing="0" stroke="#000" stroke-width="0.6">12</text>
<text transform="translate(811,264.1)" font-size="16.9" letter-spacing="0" stroke="#000" stroke-width="0.6">18</text>
</svg></body></html>
